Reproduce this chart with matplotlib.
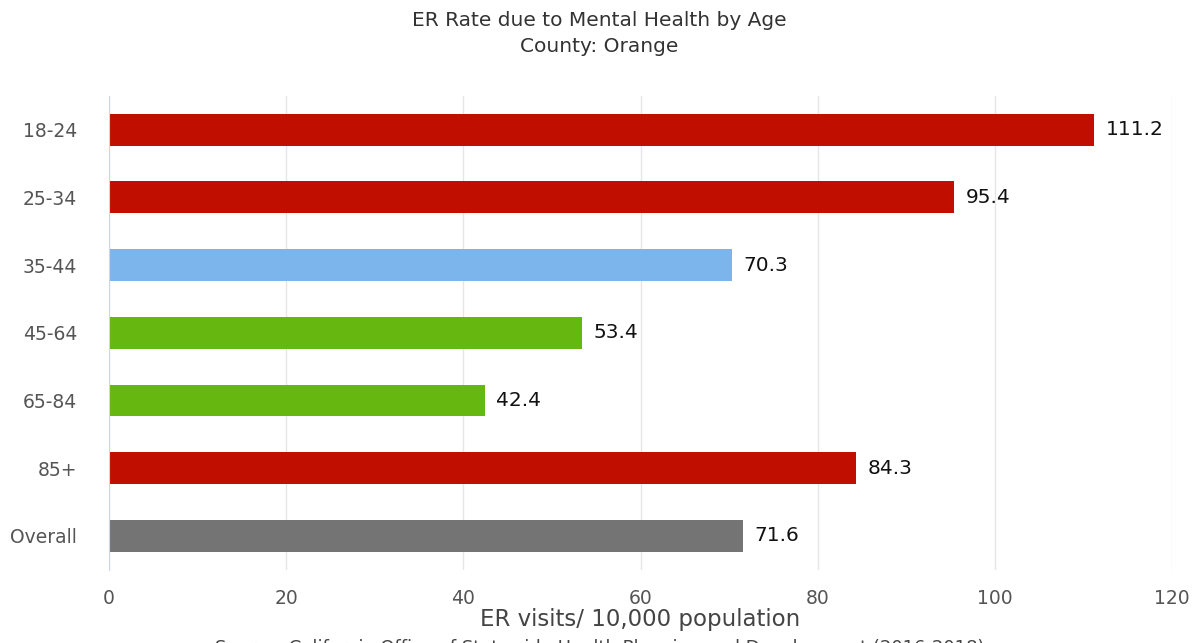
import matplotlib
matplotlib.use("Agg")
import matplotlib.pyplot as plt

# data
ages = ['18-24', '25-34', '35-44', '45-64', '65-84', '85+', 'Overall']
rates = [111.2, 95.4, 70.3, 53.4, 42.4, 84.3, 71.6]
bar_colors = ['#c00f00', '#c00f00', '#7cb5ec', '#66b710', '#66b710', '#c00f00', '#747474']
x_ticks = [0, 20, 40, 60, 80, 100, 120]

fig = plt.figure(figsize=(11.99, 6.43), dpi=100)
ax = fig.add_axes([0.0909, 0.114, 0.8866, 0.737])

ypos = range(len(ages))
ax.barh(ypos, rates, height=0.47, color=bar_colors, zorder=3)
for y, v in zip(ypos, rates):
    ax.text(v + 1.3, y, f"{v:.1f}", va='center', ha='left', fontsize=14.5, color='#111111')

ax.set_xlim(0, 120)
ax.set_ylim(len(ages) - 0.5, -0.5)
ax.set_yticks(list(ypos))
ax.set_yticklabels(ages, fontsize=13.5, color='#555555')
ax.set_xticks(x_ticks)
ax.set_xticklabels([str(t) for t in x_ticks], fontsize=13.5, color='#555555')
ax.tick_params(axis='both', length=0)
ax.tick_params(axis='x', pad=14)
ax.tick_params(axis='y', pad=23)
ax.grid(axis='x', color='#e6e6e6', linewidth=1, zorder=0)

for s in ['top', 'right', 'bottom']:
    ax.spines[s].set_visible(False)
ax.spines['left'].set_color('#ccd6eb')
ax.spines['left'].set_zorder(4)

ax.set_xlabel('ER visits/ 10,000 population', fontsize=16.5, color='#444444', labelpad=0)

fig.text(0.5, 0.968, 'ER Rate due to Mental Health by Age', ha='center', va='center',
         fontsize=14.5, color='#333333')
fig.text(0.5, 0.928, 'County: Orange', ha='center', va='center', fontsize=14.5, color='#333333')
fig.text(0.5, -0.008, 'Source: California Office of Statewide Health Planning and Development (2016-2018)',
         ha='center', va='center', fontsize=13, color='#444444')

fig.savefig('out.png', dpi=100)
